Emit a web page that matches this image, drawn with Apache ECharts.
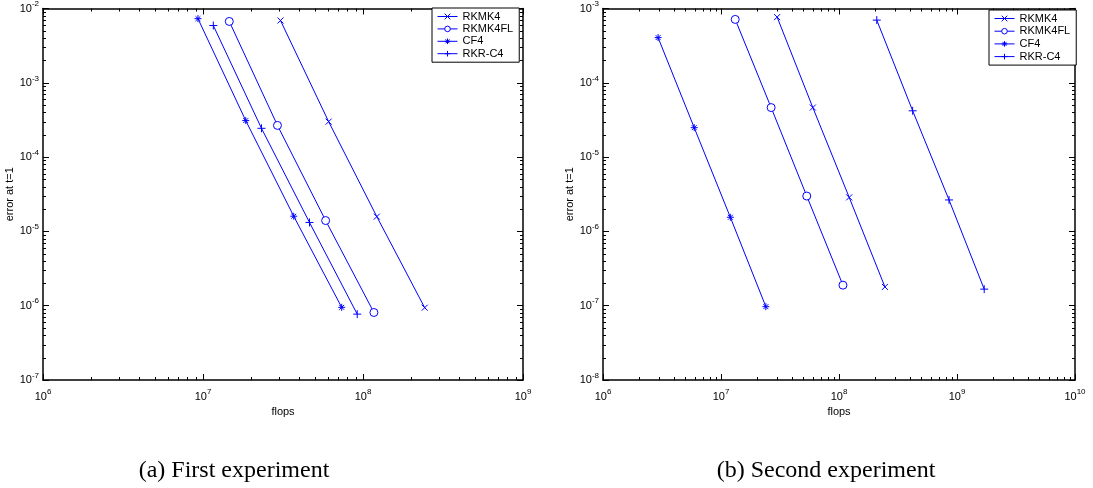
<!DOCTYPE html>
<html>
<head>
<meta charset="utf-8">
<script src="https://cdn.jsdelivr.net/npm/echarts@6/dist/echarts.min.js"></script>
<style>
  html, body { margin: 0; padding: 0; background: #fff; }
  #chart { width: 1093px; height: 488px; }
</style>
</head>
<body>
<div id="chart"></div>
<script>
"use strict";

// method names, same in both experiments
var methods = ['RKMK4', 'RKMK4FL', 'CF4', 'RKR-C4'];

// (a) first experiment: flops and error at t=1
var flopsA_rkmk4   = [3.05e7, 6.1e7, 1.22e8, 2.43e8];
var errA_rkmk4     = [6.9e-3, 3.0e-4, 1.58e-5, 9.4e-7];
var flopsA_rkmk4fl = [1.46e7, 2.92e7, 5.84e7, 1.17e8];
var errA_rkmk4fl   = [6.7e-3, 2.67e-4, 1.4e-5, 8.1e-7];
var flopsA_cf4     = [9.3e6, 1.85e7, 3.69e7, 7.36e7];
var errA_cf4       = [7.3e-3, 3.1e-4, 1.6e-5, 9.5e-7];
var flopsA_rkrc4   = [1.16e7, 2.32e7, 4.63e7, 9.2e7];
var errA_rkrc4     = [5.9e-3, 2.44e-4, 1.32e-5, 7.7e-7];

// (b) second experiment
var flopsB_rkmk4   = [2.99e7, 6.0e7, 1.22e8, 2.45e8];
var errB_rkmk4     = [7.66e-4, 4.64e-5, 2.87e-6, 1.79e-7];
var flopsB_rkmk4fl = [1.32e7, 2.66e7, 5.33e7, 1.08e8];
var errB_rkmk4fl   = [7.13e-4, 4.64e-5, 2.99e-6, 1.89e-7];
var flopsB_cf4     = [2.93e6, 5.93e6, 1.2e7, 2.4e7];
var errB_cf4       = [4.06e-4, 2.49e-5, 1.55e-6, 9.7e-8];
var flopsB_rkrc4   = [2.09e8, 4.21e8, 8.56e8, 1.70e9];
var errB_rkrc4     = [6.98e-4, 4.2e-5, 2.65e-6, 1.67e-7];

// axis ranges (decades)
var xRangeA = [1e6, 1e9];
var yRangeA = [1e-7, 1e-2];
var xRangeB = [1e6, 1e10];
var yRangeB = [1e-8, 1e-3];

var captions = ['(a) First experiment', '(b) Second experiment'];

var BLUE = '#0000ff';
var FONT = '"Liberation Sans", Arial, Helvetica, sans-serif';
var SERIF = '"Liberation Serif", "DejaVu Serif", serif';

var symbols = {
    'RKMK4': 'path://M0,0L10,10M10,0L0,10',
    'RKMK4FL': 'circle',
    'CF4': 'path://M5,0L5,10M0,5L10,5M1.5,1.5L8.5,8.5M8.5,1.5L1.5,8.5',
    'RKR-C4': 'path://M5,0L5,10M0,5L10,5'
};
var symbolSizes = { 'RKMK4': 6, 'RKMK4FL': 8, 'CF4': 7, 'RKR-C4': 8 };

function zip(xs, ys) {
    var out = [];
    for (var i = 0; i < xs.length; i++) out.push([xs[i], ys[i]]);
    return out;
}

function powLabel(v) {
    var e = Math.round(Math.log10(v));
    return '{b|10}{s|' + e + '}';
}

var richLabel = {
    b: { fontSize: 11, fontFamily: FONT, color: '#000' },
    s: { fontSize: 8, fontFamily: FONT, color: '#000', padding: [0, 0, 9, 0] }
};

function logAxis(gridIndex, range, pos, isX, main) {
    var ax = {
        type: 'log',
        logBase: 10,
        gridIndex: gridIndex,
        position: pos,
        min: range[0],
        max: range[1],
        splitNumber: Math.round(Math.log10(range[1] / range[0])),
        axisLine: { show: true, lineStyle: { color: '#000', width: 1.5 } },
        axisTick: { show: true, inside: true, length: 6, lineStyle: { color: '#000', width: 1 } },
        minorTick: { show: false },
        splitLine: { show: false },
        axisLabel: {
            show: main,
            formatter: powLabel,
            rich: richLabel,
            margin: isX ? 8 : 4
        }
    };
    if (main) {
        ax.name = isX ? 'flops' : 'error at t=1';
        ax.nameLocation = 'middle';
        ax.nameGap = isX ? 25 : 27;
        ax.nameTextStyle = { fontSize: 11, fontFamily: FONT, color: '#000' };
    }
    return ax;
}

function lineSeries(name, idx, xs, ys) {
    return {
        name: name,
        type: 'line',
        xAxisIndex: idx * 2,
        yAxisIndex: idx * 2,
        data: zip(xs, ys),
        symbol: symbols[name],
        symbolSize: symbolSizes[name],
        showAllSymbol: true,
        lineStyle: { color: BLUE, width: 1 },
        // the open circle gets a white face, the stroke-only paths stay blue
        itemStyle: { color: name === 'RKMK4FL' ? '#fff' : BLUE, borderColor: BLUE, borderWidth: 1 },
        emphasis: { disabled: true },
        animation: false
    };
}

function legendAt(left, top, gap) {
    return {
        data: methods, orient: 'vertical', left: left, top: top,
        itemWidth: 20, itemHeight: 7, itemGap: gap,
        padding: [3, 6, 3, 5], borderColor: '#000', borderWidth: 1, backgroundColor: '#fff',
        selectedMode: false,
        lineStyle: { width: 1 },
        itemStyle: { borderWidth: 1 },
        textStyle: { fontSize: 11, fontFamily: FONT, color: '#000' }
    };
}

var chart = echarts.init(document.getElementById('chart'), null, { renderer: 'canvas' });

var option = {
    backgroundColor: '#fff',
    animation: false,
    title: [
        { text: captions[0], left: 229, top: 454, textAlign: 'center',
          textStyle: { fontFamily: SERIF, fontSize: 24, fontWeight: 'normal', color: '#000' } },
        { text: captions[1], left: 821, top: 454, textAlign: 'center',
          textStyle: { fontFamily: SERIF, fontSize: 24, fontWeight: 'normal', color: '#000' } }
    ],
    grid: [
        { left: 43, right: 570, top: 4, bottom: 108 },
        { left: 603, right: 18, top: 5, bottom: 108 }
    ],
    xAxis: [
        logAxis(0, xRangeA, 'bottom', true, true),
        logAxis(0, xRangeA, 'top', true, false),
        logAxis(1, xRangeB, 'bottom', true, true),
        logAxis(1, xRangeB, 'top', true, false)
    ],
    yAxis: [
        logAxis(0, yRangeA, 'left', false, true),
        logAxis(0, yRangeA, 'right', false, false),
        logAxis(1, yRangeB, 'left', false, true),
        logAxis(1, yRangeB, 'right', false, false)
    ],
    legend: [
        legendAt(432, 8, 1.4),
        legendAt(989, 10, 1.7)
    ],
    series: [
        lineSeries('RKMK4', 0, flopsA_rkmk4, errA_rkmk4),
        lineSeries('RKMK4FL', 0, flopsA_rkmk4fl, errA_rkmk4fl),
        lineSeries('CF4', 0, flopsA_cf4, errA_cf4),
        lineSeries('RKR-C4', 0, flopsA_rkrc4, errA_rkrc4),
        lineSeries('RKMK4', 1, flopsB_rkmk4, errB_rkmk4),
        lineSeries('RKMK4FL', 1, flopsB_rkmk4fl, errB_rkmk4fl),
        lineSeries('CF4', 1, flopsB_cf4, errB_cf4),
        lineSeries('RKR-C4', 1, flopsB_rkrc4, errB_rkrc4)
    ]
};

chart.setOption(option);

// matlab style minor ticks (2..9 inside each decade) on all four sides
function minorTicks(g, xRange, yRange) {
    var out = [];
    var ax = g * 2;
    var x0 = chart.convertToPixel({ xAxisIndex: ax }, xRange[0]);
    var x1 = chart.convertToPixel({ xAxisIndex: ax }, xRange[1]);
    var y0 = chart.convertToPixel({ yAxisIndex: ax }, yRange[0]);
    var y1 = chart.convertToPixel({ yAxisIndex: ax }, yRange[1]);
    var len = 3;
    var style = { stroke: '#000', lineWidth: 1 };
    var d, k, p;
    for (d = Math.round(Math.log10(xRange[0])); d < Math.round(Math.log10(xRange[1])); d++) {
        for (k = 2; k <= 9; k++) {
            p = Math.round(chart.convertToPixel({ xAxisIndex: ax }, k * Math.pow(10, d))) + 0.5;
            out.push({ type: 'line', silent: true, shape: { x1: p, y1: y0, x2: p, y2: y0 - len }, style: style });
            out.push({ type: 'line', silent: true, shape: { x1: p, y1: y1, x2: p, y2: y1 + len }, style: style });
        }
    }
    for (d = Math.round(Math.log10(yRange[0])); d < Math.round(Math.log10(yRange[1])); d++) {
        for (k = 2; k <= 9; k++) {
            p = Math.round(chart.convertToPixel({ yAxisIndex: ax }, k * Math.pow(10, d))) + 0.5;
            out.push({ type: 'line', silent: true, shape: { x1: x0, y1: p, x2: x0 + len, y2: p }, style: style });
            out.push({ type: 'line', silent: true, shape: { x1: x1, y1: p, x2: x1 - len, y2: p }, style: style });
        }
    }
    return out;
}

chart.setOption({
    graphic: minorTicks(0, xRangeA, yRangeA).concat(minorTicks(1, xRangeB, yRangeB))
});
</script>
</body>
</html>
